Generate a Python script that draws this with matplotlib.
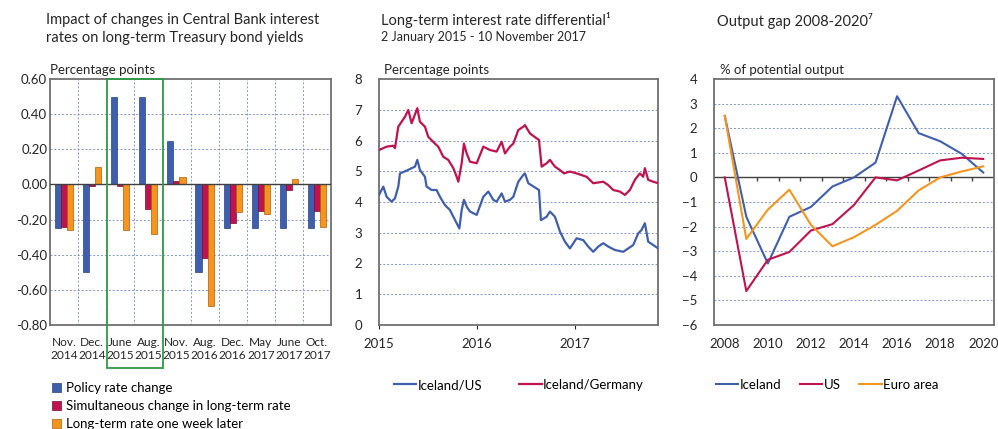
import numpy as np
import matplotlib.pyplot as plt
from matplotlib.patches import Rectangle

plt.rcParams['font.family'] = ['Lato', 'DejaVu Sans']

BLUE = '#3F5FAE'
RED = '#C0124F'
ORANGE = '#F7941D'
GRID = '#5F7FC4'
FRAME = '#707070'
TXT = '#262626'

# ---------------------------------------------------------------------------
# left panel: policy rate decisions
meetings = ['Nov.\n2014', 'Dec.\n2014', 'June\n2015', 'Aug.\n2015', 'Nov.\n2015',
            'Aug.\n2016', 'Dec.\n2016', 'May\n2017', 'June\n2017', 'Oct.\n2017']
policy_change = [-0.25, -0.50, 0.50, 0.50, 0.25, -0.50, -0.25, -0.25, -0.25, -0.25]
long_same_day = [-0.245, -0.01, -0.01, -0.14, 0.02, -0.42, -0.22, -0.15, -0.03, -0.15]
long_week_later = [-0.26, 0.10, -0.26, -0.28, 0.04, -0.69, -0.155, -0.17, 0.03, -0.24]

# middle panel: long-term rate differential (decimal years)
t_us = [2015.000, 2015.044, 2015.078, 2015.129, 2015.163, 2015.197, 2015.214, 2015.282,
        2015.333, 2015.367, 2015.391, 2015.418, 2015.469, 2015.486, 2015.537, 2015.588,
        2015.622, 2015.673, 2015.724, 2015.759, 2015.793, 2015.820, 2015.844, 2015.867,
        2015.895, 2015.929, 2015.997, 2016.065, 2016.116, 2016.167, 2016.201, 2016.252,
        2016.286, 2016.337, 2016.371, 2016.422, 2016.473, 2016.490, 2016.524, 2016.609,
        2016.633, 2016.653, 2016.711, 2016.745, 2016.796, 2016.847, 2016.898, 2016.949,
        2017.017, 2017.085, 2017.136, 2017.187, 2017.238, 2017.289, 2017.340, 2017.408,
        2017.493, 2017.544, 2017.595, 2017.646, 2017.680, 2017.714, 2017.748, 2017.799,
        2017.850]
diff_us = [4.23, 4.50, 4.17, 4.01, 4.12, 4.50, 4.93, 5.02,
           5.10, 5.15, 5.37, 5.04, 4.82, 4.50, 4.39, 4.39,
           4.17, 3.90, 3.74, 3.52, 3.31, 3.14, 3.74, 4.07,
           3.85, 3.69, 3.58, 4.17, 4.34, 4.07, 4.01, 4.28,
           4.01, 4.07, 4.17, 4.66, 4.88, 4.93, 4.61, 4.44,
           4.39, 3.41, 3.52, 3.69, 3.52, 3.04, 2.71, 2.49,
           2.82, 2.76, 2.55, 2.38, 2.55, 2.66, 2.55, 2.44,
           2.38, 2.49, 2.60, 2.98, 3.09, 3.31, 2.71, 2.60,
           2.49]
t_de = [2015.000, 2015.078, 2015.146, 2015.163, 2015.197, 2015.265, 2015.299, 2015.333,
        2015.391, 2015.418, 2015.469, 2015.503, 2015.571, 2015.605, 2015.656, 2015.707,
        2015.759, 2015.793, 2015.810, 2015.844, 2015.867, 2015.895, 2015.929, 2015.997,
        2016.065, 2016.133, 2016.201, 2016.252, 2016.286, 2016.337, 2016.371, 2016.422,
        2016.473, 2016.490, 2016.541, 2016.609, 2016.633, 2016.660, 2016.711, 2016.745,
        2016.796, 2016.847, 2016.888, 2016.949, 2017.017, 2017.119, 2017.187, 2017.289,
        2017.340, 2017.391, 2017.459, 2017.510, 2017.561, 2017.612, 2017.663, 2017.697,
        2017.714, 2017.748, 2017.799, 2017.850]
diff_de = [5.69, 5.80, 5.83, 5.75, 6.45, 6.77, 6.99, 6.56,
           7.05, 6.61, 6.45, 6.12, 5.90, 5.80, 5.47, 5.37,
           5.10, 4.82, 4.66, 5.26, 5.90, 5.58, 5.31, 5.26,
           5.80, 5.69, 5.64, 5.96, 5.58, 5.80, 5.90, 6.34,
           6.45, 6.50, 6.23, 6.07, 6.02, 5.15, 5.26, 5.37,
           5.15, 5.04, 4.93, 4.99, 4.93, 4.82, 4.61, 4.66,
           4.55, 4.39, 4.34, 4.23, 4.39, 4.72, 4.93, 4.82,
           5.10, 4.72, 4.66, 4.61]

# right panel: output gap
years = list(range(2008, 2021))
gap_iceland = [2.5, -1.6, -3.5, -1.6, -1.2, -0.37, 0.0, 0.6, 3.3, 1.8, 1.47, 0.96, 0.2]
gap_us = [0.0, -4.62, -3.35, -3.03, -2.16, -1.9, -1.12, 0.0, -0.12, 0.28, 0.69, 0.8, 0.75]
gap_euro = [2.5, -2.5, -1.31, -0.5, -1.93, -2.8, -2.43, -1.93, -1.36, -0.53, 0.0, 0.24, 0.45]


W, H = 998, 429
fig = plt.figure(figsize=(W / 100, H / 100), dpi=100)


def px_axes(x0, x1, top, bottom):
    return fig.add_axes([x0 / W, 1 - bottom / H, (x1 - x0) / W, (bottom - top) / H])


def px_text(x, y, s, **kw):
    kw.setdefault('color', TXT)
    return fig.text(x / W, 1 - y / H, s, **kw)


def frame(ax):
    for sp in ax.spines.values():
        sp.set_color(FRAME)
        sp.set_linewidth(1.3)


DOT = dict(color=GRID, lw=0.7, ls=(0, (2, 2)), alpha=0.8, zorder=1.5)

########################################################################################################################
# left panel
ax1 = px_axes(50, 331, 79, 325)
pos = np.arange(len(meetings))
bw = 0.215
b1 = ax1.bar(pos - bw, policy_change, bw, color=BLUE, edgecolor='#2B4480', lw=0.5, zorder=3)
b2 = ax1.bar(pos, long_same_day, bw, color=RED, edgecolor='#7A0A32', lw=0.5, zorder=3)
b3 = ax1.bar(pos + bw, long_week_later, bw, color=ORANGE, edgecolor='#A8600F', lw=0.5, zorder=3)
ax1.set_xlim(-0.5, len(meetings) - 0.5)
ax1.set_ylim(-0.8, 0.6)
yt = np.round(np.arange(-0.8, 0.61, 0.2), 2)
ax1.set_yticks(yt)
ax1.set_yticklabels(['%.2f' % (v + 0.0) for v in yt])
ax1.set_xticks(pos)
ax1.set_xticklabels(meetings, linespacing=1.15, fontsize=8.6)
ax1.tick_params(axis='both', length=0, colors=TXT)
ax1.tick_params(axis='y', pad=2, labelsize=9.5)
ax1.tick_params(axis='x', pad=9)
for v in [-0.6, -0.4, -0.2, 0.2, 0.4]:
    ax1.axhline(v, **DOT)
for b in pos[:-1] + 0.5:
    ax1.axvline(b, **DOT)
ax1.axhline(0, color='#404040', lw=1, zorder=4)
frame(ax1)
# highlight box (June and Aug. 2015)
fig.add_artist(Rectangle((107 / W, 1 - 368 / H), 56 / W, 289 / H, transform=fig.transFigure,
                         fill=False, ec='#2E9B46', lw=1.3))
ax1.legend([b1, b2, b3], ['Policy rate change', 'Simultaneous change in long-term rate',
                          'Long-term rate one week later'],
           loc='upper left', bbox_to_anchor=(52 / W, 1 - 382 / H), bbox_transform=fig.transFigure,
           frameon=False, fontsize=9.5, handlelength=0.7, handleheight=0.7,
           handletextpad=0.35, labelspacing=0.47, borderpad=0, borderaxespad=0)

px_text(46, 20, 'Impact of changes in Central Bank interest', fontsize=10.5, va='center')
px_text(46, 38, 'rates on long-term Treasury bond yields', fontsize=10.5, va='center')
px_text(50, 70, 'Percentage points', fontsize=9.5, va='center')

########################################################################################################################
# middle panel
ax2 = px_axes(379, 658, 79, 325)
ax2.plot(t_us, diff_us, color=BLUE, lw=1.6, zorder=3, label='Iceland/US')
ax2.plot(t_de, diff_de, color=RED, lw=1.6, zorder=3, label='Iceland/Germany')
ax2.set_xlim(2015, 2017.848)
ax2.set_ylim(0, 8)
ax2.set_yticks(range(0, 9))
ax2.set_xticks([2015, 2016, 2017])
ax2.set_xticklabels(['2015', '2016', '2017'])
ax2.tick_params(axis='y', length=0, pad=12, labelsize=9.5, colors=TXT)
ax2.tick_params(axis='x', length=3, direction='out', pad=6, labelsize=9.5, colors=TXT)
for v in range(1, 8):
    ax2.axhline(v, **DOT)
frame(ax2)
ax2.legend(loc='center left', bbox_to_anchor=(394 / W, 1 - 385 / H), bbox_transform=fig.transFigure,
           ncol=2, frameon=False, fontsize=9.5, handlelength=1.7, handletextpad=0.1,
           columnspacing=2.8, borderpad=0, borderaxespad=0)

px_text(381, 20, 'Long-term interest rate differential\u00b9', fontsize=10.5, va='center')
px_text(381, 37, '2 January 2015 - 10 November 2017', fontsize=9, va='center')
px_text(384, 70, 'Percentage points', fontsize=9.5, va='center')

########################################################################################################################
# right panel
ax3 = px_axes(714, 994, 79, 325)
xi = np.arange(len(years))
ax3.plot(xi, gap_iceland, color=BLUE, lw=1.5, zorder=3, label='Iceland')
ax3.plot(xi, gap_us, color=RED, lw=1.5, zorder=3, label='US')
ax3.plot(xi, gap_euro, color=ORANGE, lw=1.5, zorder=3, label='Euro area')
ax3.set_xlim(-0.5, len(years) - 0.5)
ax3.set_ylim(-6, 4)
ax3.set_yticks(range(-6, 5))
ax3.set_xticks(xi[::2])
ax3.set_xticklabels([str(y) for y in years[::2]])
ax3.tick_params(axis='y', length=0, pad=12, labelsize=9.5, colors=TXT)
ax3.tick_params(axis='x', length=0, pad=9, labelsize=9.5, colors=TXT)
for v in [-5, -4, -3, -2, -1, 1, 2, 3]:
    ax3.axhline(v, **DOT)
ax3.axhline(0, color='#404040', lw=1, zorder=2)
ax3.vlines(xi[:-1] + 0.5, -0.13, 0, color='#404040', lw=1, zorder=2)
frame(ax3)
ax3.legend(loc='center left', bbox_to_anchor=(716 / W, 1 - 385 / H), bbox_transform=fig.transFigure,
           ncol=3, frameon=False, fontsize=9.5, handlelength=1.7, handletextpad=0.1,
           columnspacing=1.4, borderpad=0, borderaxespad=0)

px_text(717, 21, 'Output gap 2008-2020\u2077', fontsize=10.5, va='center')
px_text(720, 70, '% of potential output', fontsize=9.5, va='center')

fig.savefig('out.png', dpi=100)
